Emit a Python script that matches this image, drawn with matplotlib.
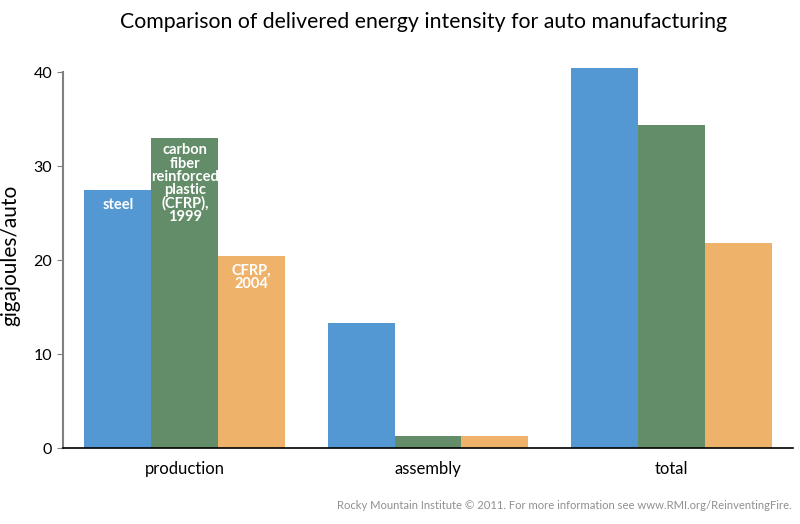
import matplotlib
matplotlib.use("Agg")
import matplotlib.pyplot as plt
import numpy as np

categories = ["production", "assembly", "total"]
series_names = ["steel", "carbon\nfiber\nreinforced\nplastic\n(CFRP),\n1999", "CFRP,\n2004"]
steel = [27.4, 13.3, 40.4]
cfrp_1999 = [33.0, 1.3, 34.4]
cfrp_2004 = [20.4, 1.3, 21.8]
yticks = [0, 10, 20, 30, 40]

colors = ["#5398D3", "#638D68", "#EFB26B"]

plt.rcParams['font.family'] = ['Lato', 'DejaVu Sans']

fig = plt.figure(figsize=(8, 5.24), dpi=100)
ax = fig.add_axes([0.079, 0.145, 0.912, 0.7355])

x = np.arange(len(categories))
w = 0.275
series = [steel, cfrp_1999, cfrp_2004]
for i, vals in enumerate(series):
    ax.bar(x + (i - 1) * w, vals, width=w, color=colors[i], linewidth=0)

# in-bar labels for the production group
ax.text(x[0] - w, steel[0] - 0.8, series_names[0], ha='center', va='top',
        color='white', fontsize=10.5, fontweight='bold', linespacing=1.0)
ax.text(x[0], cfrp_1999[0] - 0.6, series_names[1], ha='center', va='top',
        color='white', fontsize=10.5, fontweight='bold', linespacing=0.93)
ax.text(x[0] + w, cfrp_2004[0] - 0.8, series_names[2], ha='center', va='top',
        color='white', fontsize=10.5, fontweight='bold', linespacing=0.95)

ax.set_xlim(-0.5, 2.5)
ax.set_ylim(0, 41)
ax.set_yticks(yticks)
ax.set_xticks(x)
ax.set_xticklabels(categories, fontsize=12)
ax.tick_params(axis='x', length=0, pad=9)
ax.tick_params(axis='y', length=4, color='#808080', labelsize=11.5, pad=4)

for s in ['top', 'right']:
    ax.spines[s].set_visible(False)
ax.spines['left'].set_bounds(0, 40)
ax.spines['left'].set_color('#808080')
ax.spines['left'].set_linewidth(1.5)
ax.spines['bottom'].set_color('black')
ax.spines['bottom'].set_linewidth(1.2)

ax.set_ylabel("gigajoules/auto", fontsize=15, labelpad=9)

fig.text(0.529, 0.958, "Comparison of delivered energy intensity for auto manufacturing",
         ha='center', va='center', fontsize=15.3)
fig.text(0.99, 0.035, "Rocky Mountain Institute © 2011. For more information see www.RMI.org/ReinventingFire.",
         ha='right', va='center', fontsize=8.1, color='#909090')

fig.savefig("out.png", dpi=100)
